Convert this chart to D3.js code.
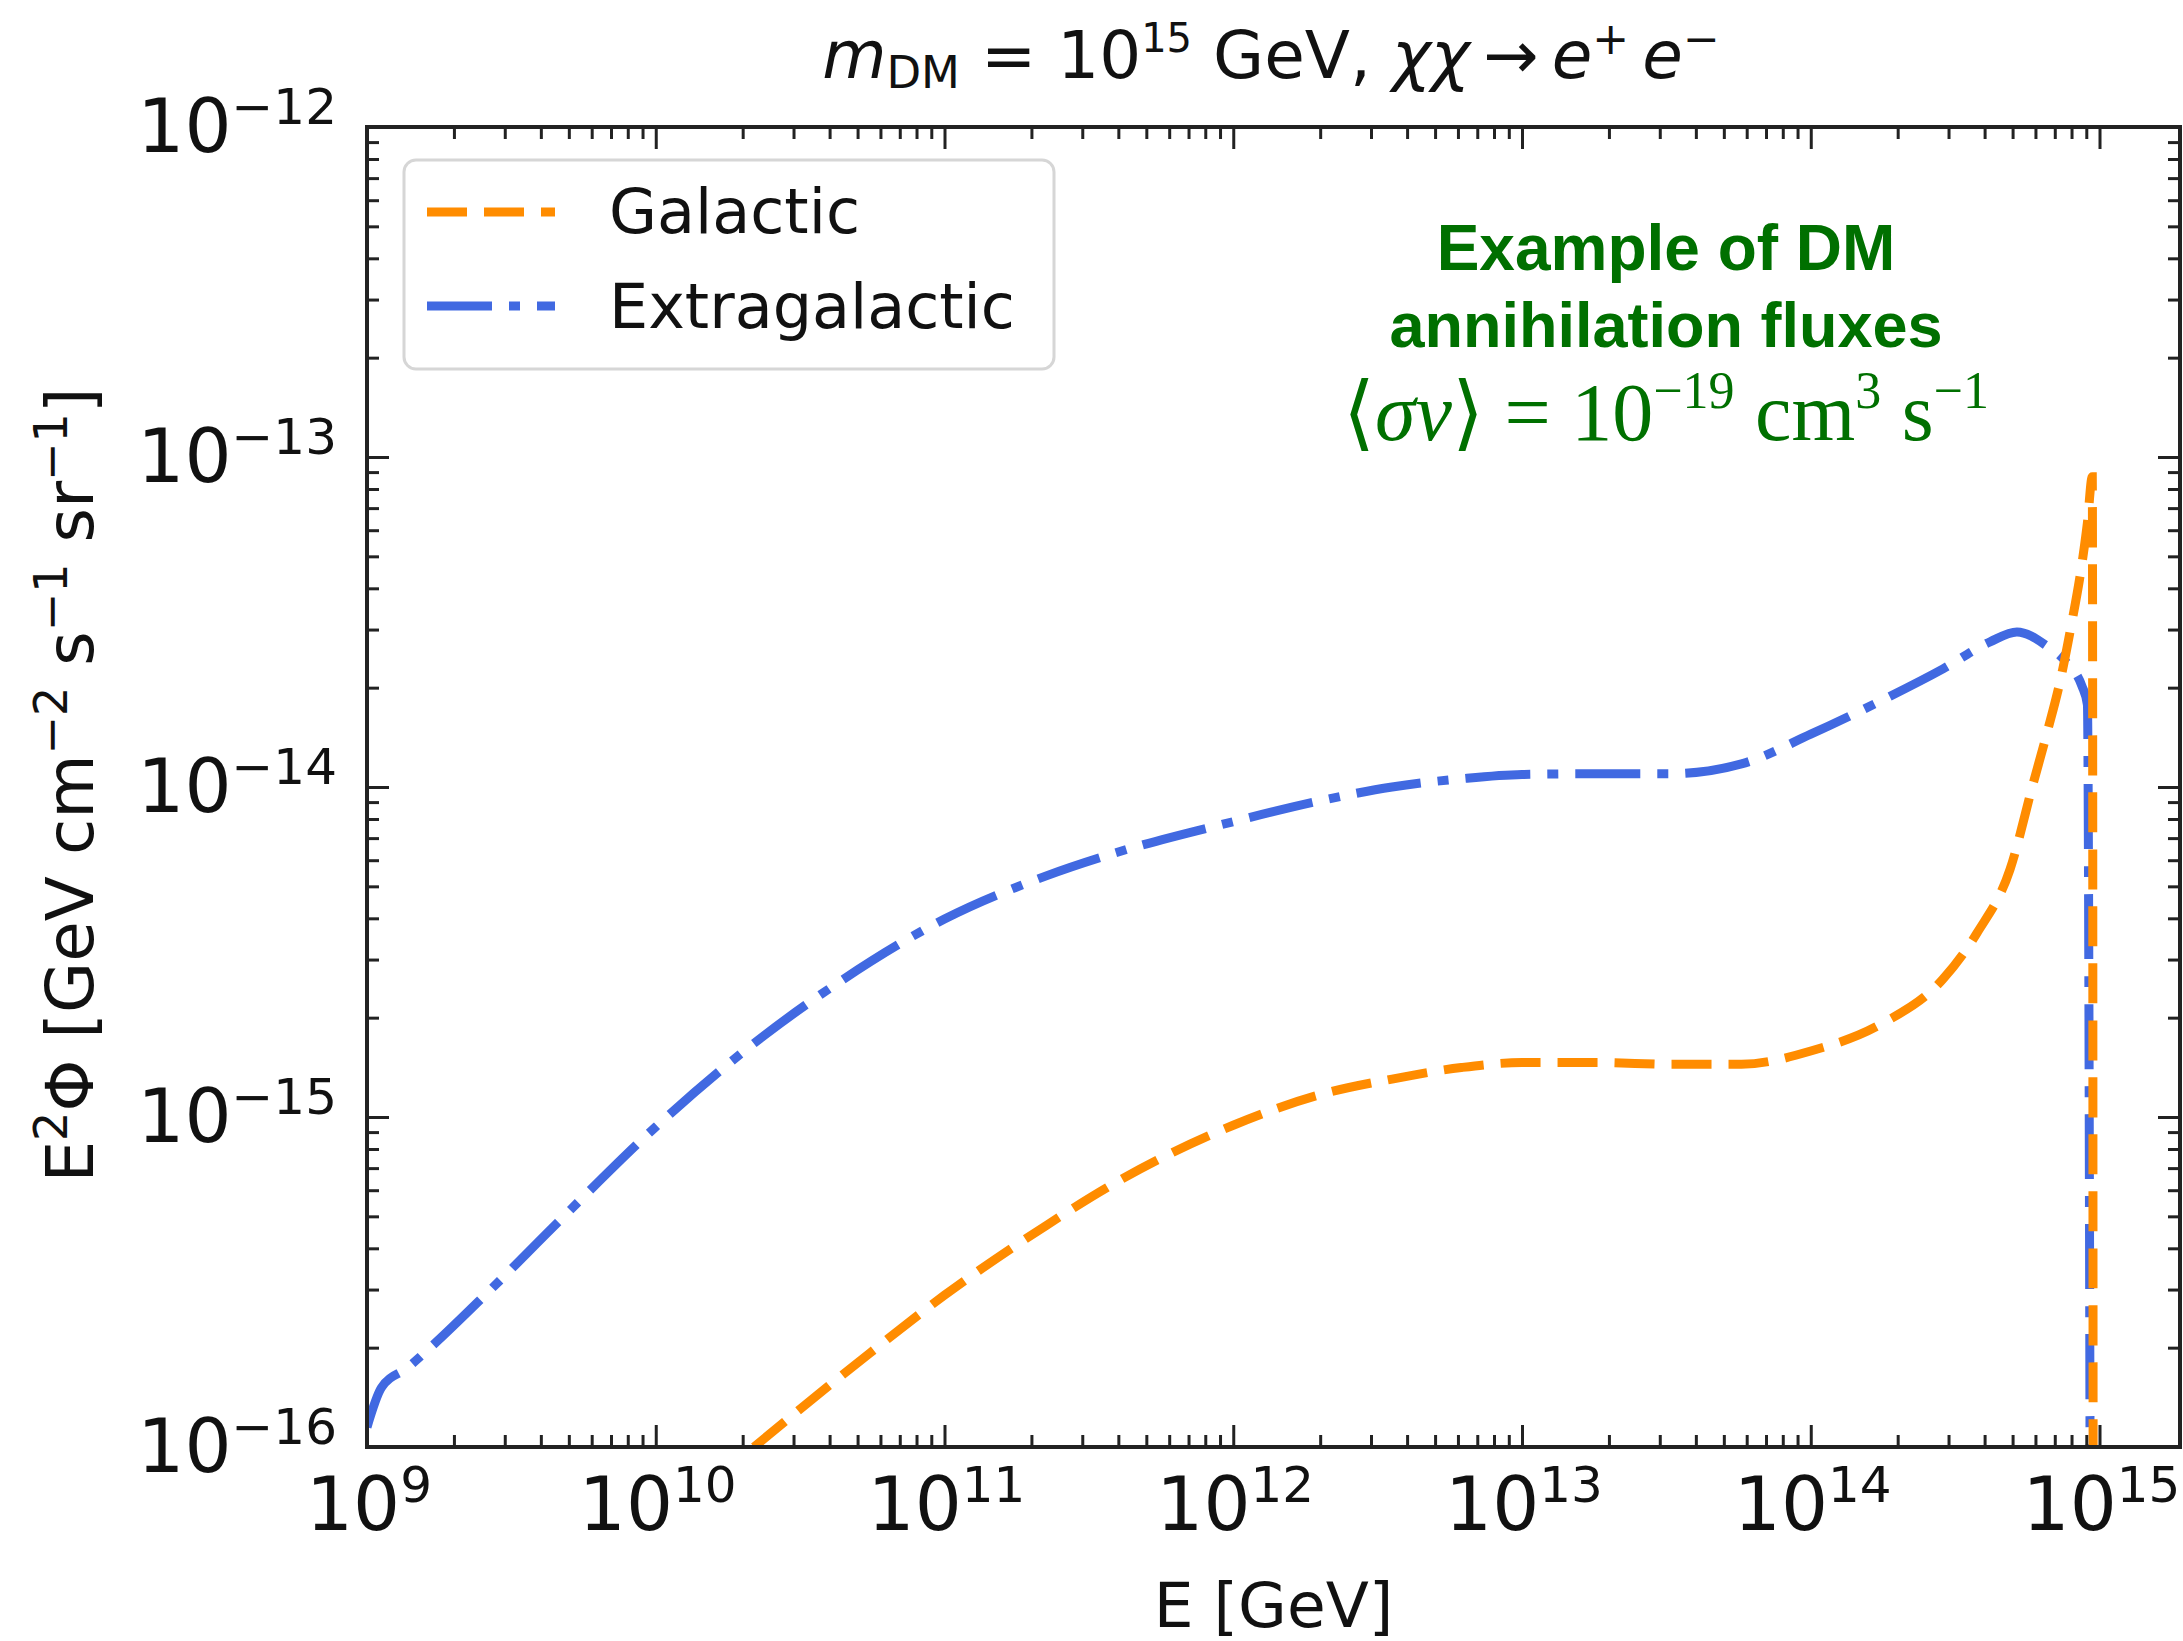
<!DOCTYPE html>
<html>
<head>
<meta charset="utf-8">
<script src="https://cdn.jsdelivr.net/npm/d3@7"></script>
<style>
  html, body { margin: 0; padding: 0; background: #fff; }
  svg { display: block; }
</style>
</head>
<body>
<svg id="chart" width="2183" height="1641"></svg>
<script>
// ---------------- DATA ----------------
// log10(E / GeV) and log10(E^2 Phi) for each series
const galacticLog10E = [10.34, 10.62, 10.742, 11.0, 11.35, 11.59, 12.0, 12.31, 12.55, 12.79, 13.0, 13.27, 13.51, 13.76, 14.0, 14.24, 14.458, 14.576, 14.69, 14.77, 14.82, 14.866, 14.90, 14.938, 14.958, 14.975, 14.978];
const galacticLog10Flux = [-16.0, -15.8, -15.715, -15.54, -15.33, -15.2, -15.025, -14.93, -14.885, -14.85, -14.835, -14.835, -14.84, -14.84, -14.8, -14.72, -14.582, -14.442, -14.25, -13.99, -13.83, -13.67, -13.52, -13.33, -13.2, -13.06, -16.3];

const extragalacticLog10E = [9.0, 9.05, 9.14, 9.21, 9.42, 9.66, 10.0, 10.38, 10.62, 11.0, 11.35, 11.59, 12.0, 12.31, 12.55, 12.79, 13.0, 13.27, 13.51, 13.76, 14.0, 14.24, 14.458, 14.621, 14.714, 14.818, 14.887, 14.939, 14.958, 14.968];
const extragalacticLog10Flux = [-15.94, -15.82, -15.76, -15.706, -15.53, -15.32, -15.03, -14.75, -14.6, -14.4, -14.27, -14.2, -14.105, -14.04, -14.0, -13.975, -13.962, -13.96, -13.96, -13.93, -13.84, -13.74, -13.642, -13.56, -13.53, -13.573, -13.624, -13.694, -13.75, -16.3];

const seriesNames = ["Galactic", "Extragalactic"];
const seriesColors = ["#ff8c00", "#4169e1"];

const xMajorExponents = [9, 10, 11, 12, 13, 14, 15];
const yMajorExponents = [-16, -15, -14, -13, -12];
const xDomain = [1e9, 1.9e15];
const yDomain = [1e-16, 1e-12];

// ---------------- LAYOUT ----------------
const pL = 367, pR = 2180, pT = 127, pB = 1447;
const svg = d3.select("#chart");
const font = "'DejaVu Sans', sans-serif";

const x = d3.scaleLog().domain(xDomain).range([pL, pR]);
const y = d3.scaleLog().domain(yDomain).range([pB, pT]);

const makeSeries = (le, lf) => le.map((e, i) => ({E: Math.pow(10, e), F: Math.pow(10, lf[i])}));
const galactic = makeSeries(galacticLog10E, galacticLog10Flux);
const extragalactic = makeSeries(extragalacticLog10E, extragalacticLog10Flux);

svg.append("defs").append("clipPath").attr("id", "plotclip")
  .append("rect").attr("x", pL).attr("y", pT).attr("width", pR - pL).attr("height", pB - pT);

const line = d3.line().x(d => x(d.E)).y(d => y(d.F)).curve(d3.curveMonotoneX);

const dashG = "40,17";
const dashE = "65,17,11,17";
const lw = 9;

const plot = svg.append("g").attr("clip-path", "url(#plotclip)");
plot.append("path").datum(extragalactic).attr("d", line)
  .attr("fill", "none").attr("stroke", seriesColors[1]).attr("stroke-width", lw)
  .attr("stroke-dasharray", dashE);
plot.append("path").datum(galactic).attr("d", line)
  .attr("fill", "none").attr("stroke", seriesColors[0]).attr("stroke-width", lw)
  .attr("stroke-dasharray", dashG);

// ---------------- TICKS ----------------
const xMajors = xMajorExponents.map(e => Math.pow(10, e));
const xMinors = [];
for (let e = 9; e <= 15; e++) for (let k = 2; k <= 9; k++) { const v = k * Math.pow(10, e); if (v <= xDomain[1]) xMinors.push(v); }
const yMajors = yMajorExponents.map(e => Math.pow(10, e));
const yMinors = [];
for (let e = -16; e < -12; e++) for (let k = 2; k <= 9; k++) yMinors.push(k * Math.pow(10, e));

function styleAxis(g) {
  g.select(".domain").remove();
  g.selectAll(".tick line").attr("stroke", "#222").attr("stroke-width", 3);
  g.selectAll(".tick text").remove();
}
const majLen = 22, minLen = 12;
svg.append("g").attr("transform", `translate(0,${pB})`).call(d3.axisBottom(x).tickValues(xMajors).tickSize(-majLen).tickFormat("")).call(styleAxis);
svg.append("g").attr("transform", `translate(0,${pB})`).call(d3.axisBottom(x).tickValues(xMinors).tickSize(-minLen).tickFormat("")).call(styleAxis);
svg.append("g").attr("transform", `translate(0,${pT})`).call(d3.axisTop(x).tickValues(xMajors).tickSize(-majLen).tickFormat("")).call(styleAxis);
svg.append("g").attr("transform", `translate(0,${pT})`).call(d3.axisTop(x).tickValues(xMinors).tickSize(-minLen).tickFormat("")).call(styleAxis);
svg.append("g").attr("transform", `translate(${pL},0)`).call(d3.axisLeft(y).tickValues(yMajors).tickSize(-majLen).tickFormat("")).call(styleAxis);
svg.append("g").attr("transform", `translate(${pL},0)`).call(d3.axisLeft(y).tickValues(yMinors).tickSize(-minLen).tickFormat("")).call(styleAxis);
svg.append("g").attr("transform", `translate(${pR},0)`).call(d3.axisRight(y).tickValues(yMajors).tickSize(-majLen).tickFormat("")).call(styleAxis);
svg.append("g").attr("transform", `translate(${pR},0)`).call(d3.axisRight(y).tickValues(yMinors).tickSize(-minLen).tickFormat("")).call(styleAxis);

svg.append("rect").attr("x", pL).attr("y", pT).attr("width", pR - pL).attr("height", pB - pT)
  .attr("fill", "none").attr("stroke", "#222").attr("stroke-width", 4);

// tick labels
const tickFs = 74, supFs = 50, supRaise = 28;
function powLabel(sel, exp) {
  sel.append("tspan").text("10");
  sel.append("tspan").attr("font-size", supFs).attr("dy", -supRaise).text(String(exp).replace("-", "\u2212"));
}
xMajorExponents.forEach(e => {
  const t = svg.append("text").attr("x", x(Math.pow(10, e)) + 2).attr("y", 1530)
    .attr("text-anchor", "middle").attr("font-family", font).attr("font-size", tickFs).attr("fill", "#111");
  powLabel(t, e);
});
yMajorExponents.forEach(e => {
  const t = svg.append("text").attr("x", 337).attr("y", y(Math.pow(10, e)) + 25)
    .attr("text-anchor", "end").attr("font-family", font).attr("font-size", tickFs).attr("fill", "#111");
  powLabel(t, e);
});

// axis labels
svg.append("text").attr("x", (pL + pR) / 2).attr("y", 1627).attr("text-anchor", "middle")
  .attr("font-family", font).attr("font-size", 63).attr("fill", "#111").text("E [GeV]");

const yl = svg.append("text").attr("transform", `translate(93,785) rotate(-90)`).attr("text-anchor", "middle")
  .attr("font-family", font).attr("font-size", 66).attr("fill", "#111");
const ylParts = [["E", 0], ["2", 1], ["\u03A6 [GeV cm", 0], ["\u22122", 1], [" s", 0], ["\u22121", 1], [" sr", 0], ["\u22121", 1], ["]", 0]];
let prevSup = 0;
ylParts.forEach(([txt, sup]) => {
  const ts = yl.append("tspan").text(txt);
  if (sup) ts.attr("font-size", 46);
  const dy = (sup - prevSup) * -26;
  if (dy !== 0) ts.attr("dy", dy);
  prevSup = sup;
});

// title
const title = svg.append("text").attr("x", 1271).attr("y", 78).attr("text-anchor", "middle")
  .attr("font-family", font).attr("font-size", 66).attr("fill", "#111");
title.append("tspan").attr("font-style", "italic").text("m");
title.append("tspan").attr("font-size", 45).attr("dy", 10).text("DM");
title.append("tspan").attr("dy", -10).text(" = 10");
title.append("tspan").attr("font-size", 40).attr("dy", -26).text("15");
title.append("tspan").attr("dy", 26).text(" GeV, ");
title.append("tspan").attr("font-style", "italic").text("\u03C7\u03C7");
title.append("tspan").text("\u2009\u2192\u2009");
title.append("tspan").attr("font-style", "italic").text("e");
title.append("tspan").attr("font-size", 44).attr("dy", -24).text("+");
title.append("tspan").attr("font-style", "italic").attr("dy", 24).text("\u2009e");
title.append("tspan").attr("font-size", 44).attr("dy", -24).text("\u2212");

// legend
const lg = svg.append("g");
lg.append("rect").attr("x", 404).attr("y", 160).attr("width", 650).attr("height", 209).attr("rx", 12)
  .attr("fill", "#fff").attr("fill-opacity", 0.85).attr("stroke", "#d6d6d6").attr("stroke-width", 3);
const legendRows = [{name: seriesNames[0], color: seriesColors[0], dash: dashG, ly: 212, ty: 233},
                    {name: seriesNames[1], color: seriesColors[1], dash: dashE, ly: 306, ty: 328}];
legendRows.forEach(r => {
  lg.append("line").attr("x1", 427).attr("x2", 555).attr("y1", r.ly).attr("y2", r.ly)
    .attr("stroke", r.color).attr("stroke-width", lw).attr("stroke-dasharray", r.dash);
  lg.append("text").attr("x", 609).attr("y", r.ty).attr("font-family", font).attr("font-size", 62)
    .attr("fill", "#111").text(r.name);
});

// annotation
const green = "#007000";
const ann = svg.append("g").attr("fill", green).attr("text-anchor", "middle");
ann.append("text").attr("x", 1666).attr("y", 270).attr("font-family", "'Liberation Sans', Arial, sans-serif")
  .attr("font-weight", "bold").attr("font-size", 64).text("Example of DM");
ann.append("text").attr("x", 1666).attr("y", 347).attr("font-family", "'Liberation Sans', Arial, sans-serif")
  .attr("font-weight", "bold").attr("font-size", 63).text("annihilation fluxes");
const mt = ann.append("text").attr("x", 1666).attr("y", 440).attr("font-family", "'Liberation Serif', 'Times New Roman', serif")
  .attr("font-size", 82);
mt.append("tspan").attr("font-family", "'DejaVu Serif', serif").text("\u27E8");
mt.append("tspan").attr("font-style", "italic").text("\u03C3v");
mt.append("tspan").attr("font-family", "'DejaVu Serif', serif").text("\u27E9");
mt.append("tspan").text(" = 10");
mt.append("tspan").attr("font-size", 52).attr("dy", -32).text("\u221219");
mt.append("tspan").attr("dy", 32).text(" cm");
mt.append("tspan").attr("font-size", 52).attr("dy", -32).text("3");
mt.append("tspan").attr("dy", 32).text(" s");
mt.append("tspan").attr("font-size", 52).attr("dy", -32).text("\u22121");
</script>
</body>
</html>
